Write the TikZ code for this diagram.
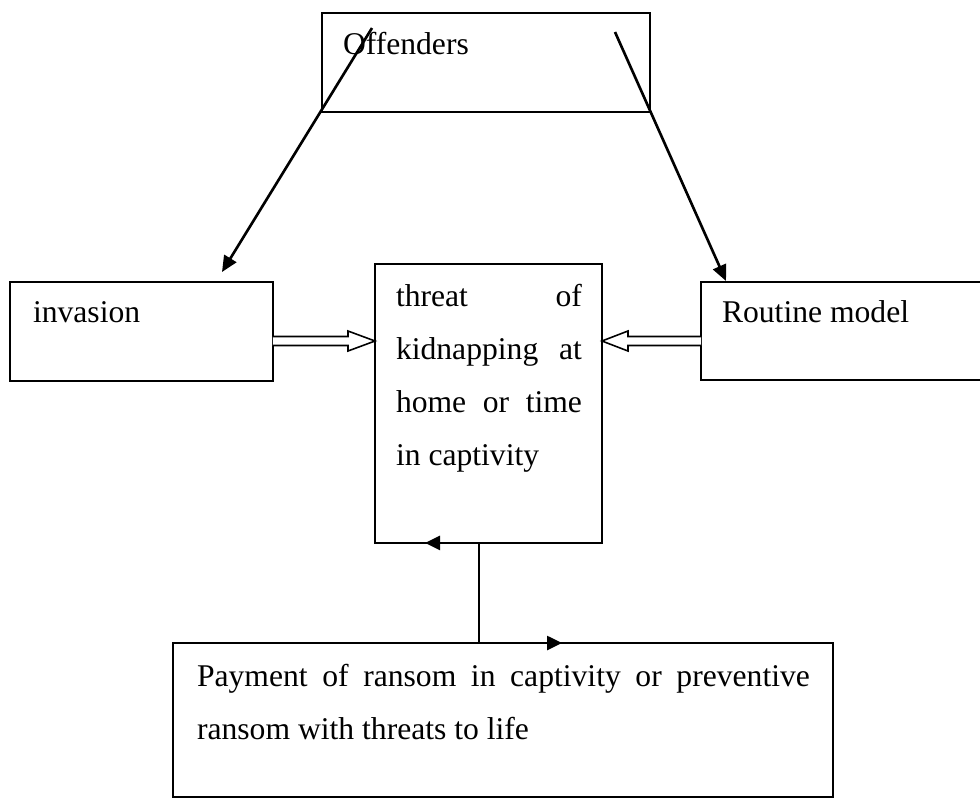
\documentclass[tikz,border=0pt]{standalone}
\usepackage{fontspec}
\setmainfont{Liberation Serif}
\usetikzlibrary{arrows.meta,calc}
\begin{document}
\begin{tikzpicture}[x=0.02cm,y=-0.02cm,
  box/.style={draw,line width=0.9pt,inner sep=0pt,outer sep=0pt,anchor=north west},
  txt/.style={inner sep=0pt,outer sep=0pt,anchor=base west,font=\fontsize{18}{30}\selectfont},
  conn/.style={line width=1.5pt,-{Triangle[length=0.32cm,width=0.28cm]}},
  hollow/.style={line width=0.9pt,fill=white,line join=miter}]
\useasboundingbox (0,0) rectangle (980,799);
\begin{scope}
\clip (0,0) rectangle (980,799);
% boxes
\node[box,minimum width=6.56cm,minimum height=1.98cm] (off) at (322,13) {};
\node[box,minimum width=5.26cm,minimum height=1.98cm] (inv) at (10,282) {};
\node[box,minimum width=4.54cm,minimum height=5.58cm] (ctr) at (375,264) {};
\node[box,minimum width=6.2cm,minimum height=1.96cm] (rout) at (701,282) {};
\node[box,minimum width=13.2cm,minimum height=3.08cm] (pay) at (173,643) {};
% texts
\node[txt] (toff) at (343,54) {Offenders};
\node[txt] (tinv) at (33,322) {invasion};
\node[txt] (trout) at (722,322) {Routine model};
\node[txt] (tc1) at (396,306) {\makebox[3.72cm][s]{threat of}};
\node[txt] (tc2) at (396,359) {\makebox[3.72cm][s]{kidnapping at}};
\node[txt] (tc3) at (396,412) {\makebox[3.72cm][s]{home or time}};
\node[txt] (tc4) at (396,465) {in captivity};
\node[txt] (tp1) at (197,686) {\makebox[12.26cm][s]{Payment of ransom in captivity or preventive}};
\node[txt] (tp2) at (197,739) {ransom with threats to life};
% connector end points
\coordinate (offA) at (372,28);
\coordinate (invT) at (222,272);
\coordinate (offB) at (615,32);
\coordinate (routT) at (726,281);
\draw[conn] (offA) -- (invT);
\draw[conn] (offB) -- (routT);
% hollow double arrows
\coordinate (h1) at (inv.east |- 0,341);
\coordinate (h2) at (ctr.west |- 0,341);
\draw[hollow] ($(h1)+(0,-4.5)$) -- ($(h2)+(-27,-4.5)$) -- ($(h2)+(-27,-10)$) -- (h2)
  -- ($(h2)+(-27,10)$) -- ($(h2)+(-27,4.5)$) -- ($(h1)+(0,4.5)$);
\coordinate (h3) at (rout.west |- 0,341);
\coordinate (h4) at (ctr.east |- 0,341);
\draw[hollow] ($(h3)+(0,-4.5)$) -- ($(h4)+(26,-4.5)$) -- ($(h4)+(26,-10)$) -- (h4)
  -- ($(h4)+(26,10)$) -- ($(h4)+(26,4.5)$) -- ($(h3)+(0,4.5)$);
% bottom connector
\coordinate (bj) at (ctr.south -| 479,0);
\coordinate (bl) at (ctr.south -| 425,0);
\coordinate (bk) at (pay.north -| 479,0);
\coordinate (br) at (pay.north -| 562,0);
\draw[line width=1.5pt,{Triangle[length=0.3cm,width=0.28cm]}-{Triangle[length=0.3cm,width=0.28cm]}] (bl) -- (bj) -- (bk) -- (br);
\end{scope}
\end{tikzpicture}
\end{document}
